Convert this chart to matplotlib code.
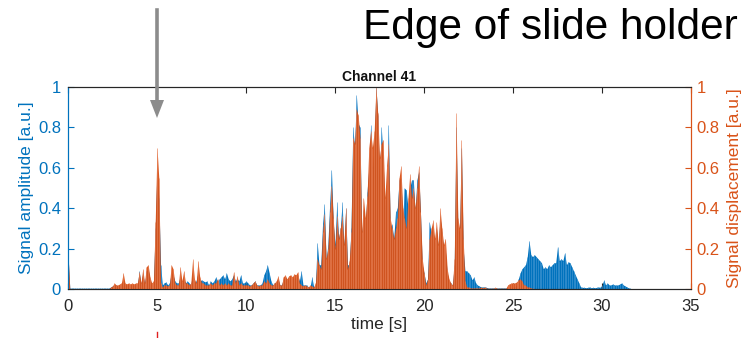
import numpy as np
import matplotlib
matplotlib.use("Agg")
import matplotlib.pyplot as plt
from matplotlib.lines import Line2D
from matplotlib.patches import FancyArrow

plt.rcParams['font.family'] = ['Liberation Sans', 'DejaVu Sans']

BLUE = '#0072BD'
ORANGE = '#D95319'
DARK = '#262626'

# sampling: 0.1 s, 0 .. 34.9 s
dt = 0.1

# signal amplitude (left axis), one row per second
amp = [
    0.17, 0.004, 0.004, 0.004, 0.004, 0.004, 0.004, 0.004, 0.004, 0.004,   # 0
    0.004, 0.004, 0.004, 0.004, 0.004, 0.004, 0.004, 0.004, 0.004, 0.004,  # 1
    0.004, 0.004, 0.004, 0.004, 0.01, 0.015, 0.02, 0.02, 0.015, 0.02,      # 2
    0.02, 0.05, 0.02, 0.02, 0.02, 0.02, 0.02, 0.02, 0.02, 0.02,            # 3
    0.09, 0.02, 0.08, 0.02, 0.09, 0.10, 0.05, 0.02, 0.03, 0.30,            # 4
    0.60, 0.45, 0.12, 0.02, 0.03, 0.035, 0.02, 0.03, 0.08, 0.07,           # 5
    0.04, 0.03, 0.03, 0.06, 0.03, 0.05, 0.03, 0.04, 0.03, 0.02,            # 6
    0.08, 0.03, 0.04, 0.08, 0.04, 0.045, 0.04, 0.035, 0.04, 0.02,          # 7
    0.04, 0.03, 0.04, 0.06, 0.04, 0.05, 0.06, 0.07, 0.05, 0.08,            # 8
    0.05, 0.04, 0.05, 0.07, 0.04, 0.05, 0.04, 0.07, 0.03, 0.03,            # 9
    0.04, 0.03, 0.02, 0.02, 0.03, 0.04, 0.02, 0.02, 0.02, 0.03,            # 10
    0.07, 0.09, 0.12, 0.08, 0.04, 0.02, 0.03, 0.03, 0.05, 0.02,            # 11
    0.02, 0.05, 0.06, 0.04, 0.05, 0.06, 0.05, 0.06, 0.05, 0.07,            # 12
    0.04, 0.09, 0.02, 0.02, 0.02, 0.01, 0.01, 0.06, 0.01, 0.02,            # 13
    0.23, 0.12, 0.12, 0.32, 0.42, 0.14, 0.22, 0.42, 0.59, 0.33,            # 14
    0.22, 0.43, 0.25, 0.30, 0.43, 0.20, 0.40, 0.12, 0.12, 0.30,            # 15
    0.80, 0.70, 0.96, 0.82, 0.80, 0.25, 0.39, 0.30, 0.48, 0.60,            # 16
    0.81, 0.60, 0.70, 1.00, 0.86, 0.55, 0.80, 0.65, 0.40, 0.50,            # 17
    0.81, 0.30, 0.32, 0.25, 0.38, 0.40, 0.54, 0.55, 0.35, 0.50,            # 18
    0.49, 0.40, 0.50, 0.54, 0.54, 0.38, 0.54, 0.58, 0.38, 0.12,            # 19
    0.08, 0.03, 0.05, 0.33, 0.28, 0.30, 0.22, 0.30, 0.20, 0.36,            # 20
    0.28, 0.20, 0.19, 0.08, 0.04, 0.03, 0.02, 0.12, 0.80, 0.31,            # 21
    0.28, 0.70, 0.20, 0.09, 0.09, 0.08, 0.07, 0.045, 0.06, 0.03,           # 22
    0.02, 0.015, 0.01, 0.01, 0.01, 0.008, 0.005, 0.005, 0.005, 0.005,      # 23
    0.005, 0.005, 0.005, 0.005, 0.005, 0.005, 0.005, 0.005, 0.005, 0.005,  # 24
    0.01, 0.01, 0.02, 0.05, 0.08, 0.10, 0.11, 0.12, 0.16, 0.24,            # 25
    0.17, 0.16, 0.17, 0.16, 0.15, 0.14, 0.13, 0.10, 0.11, 0.10,            # 26
    0.12, 0.11, 0.12, 0.13, 0.13, 0.21, 0.14, 0.15, 0.14, 0.18,            # 27
    0.12, 0.135, 0.13, 0.11, 0.09, 0.07, 0.05, 0.03, 0.01, 0.008,          # 28
    0.008, 0.006, 0.008, 0.01, 0.006, 0.008, 0.006, 0.008, 0.01, 0.008,    # 29
    0.02, 0.045, 0.02, 0.03, 0.02, 0.02, 0.025, 0.02, 0.02, 0.02,          # 30
    0.025, 0.03, 0.02, 0.015, 0.01, 0.005, 0.003, 0.0, 0.0, 0.0,           # 31
    0.0, 0.0, 0.0, 0.0, 0.0, 0.0, 0.0, 0.0, 0.0, 0.0,                      # 32
    0.0, 0.0, 0.0, 0.0, 0.0, 0.0, 0.0, 0.0, 0.0, 0.0,                      # 33
    0.0, 0.0, 0.0, 0.0, 0.0, 0.0, 0.0, 0.0, 0.0, 0.0,                      # 34
]

# signal displacement (right axis)
disp = [
    0.18, 0.0, 0.0, 0.0, 0.0, 0.0, 0.0, 0.0, 0.0, 0.0,                     # 0
    0.0, 0.0, 0.0, 0.0, 0.0, 0.0, 0.0, 0.0, 0.0, 0.0,                      # 1
    0.0, 0.0, 0.0, 0.0, 0.01, 0.015, 0.03, 0.02, 0.02, 0.025,              # 2
    0.03, 0.08, 0.03, 0.025, 0.03, 0.025, 0.03, 0.025, 0.03, 0.03,         # 3
    0.085, 0.03, 0.10, 0.03, 0.11, 0.12, 0.06, 0.03, 0.04, 0.33,           # 4
    0.70, 0.55, 0.03, 0.01, 0.02, 0.02, 0.015, 0.02, 0.12, 0.10,           # 5
    0.03, 0.02, 0.02, 0.11, 0.04, 0.09, 0.03, 0.03, 0.02, 0.03,            # 6
    0.147, 0.05, 0.03, 0.14, 0.06, 0.03, 0.03, 0.02, 0.02, 0.02,           # 7
    0.03, 0.02, 0.03, 0.03, 0.05, 0.02, 0.03, 0.02, 0.03, 0.02,            # 8
    0.03, 0.02, 0.02, 0.085, 0.03, 0.065, 0.02, 0.03, 0.02, 0.02,          # 9
    0.02, 0.02, 0.015, 0.02, 0.03, 0.04, 0.02, 0.015, 0.02, 0.02,          # 10
    0.04, 0.03, 0.05, 0.03, 0.02, 0.02, 0.03, 0.04, 0.065, 0.02,           # 11
    0.02, 0.06, 0.07, 0.05, 0.065, 0.07, 0.06, 0.075, 0.07, 0.085,         # 12
    0.03, 0.02, 0.015, 0.02, 0.015, 0.01, 0.02, 0.015, 0.01, 0.03,         # 13
    0.15, 0.12, 0.10, 0.28, 0.37, 0.15, 0.20, 0.38, 0.51, 0.35,            # 14
    0.20, 0.36, 0.25, 0.30, 0.36, 0.22, 0.40, 0.10, 0.14, 0.28,            # 15
    0.75, 0.72, 0.89, 0.86, 0.75, 0.28, 0.45, 0.35, 0.46, 0.70,            # 16
    0.78, 0.70, 0.78, 1.00, 0.87, 0.65, 0.72, 0.74, 0.45, 0.61,            # 17
    0.72, 0.35, 0.30, 0.25, 0.30, 0.35, 0.55, 0.61, 0.40, 0.35,            # 18
    0.30, 0.45, 0.57, 0.45, 0.50, 0.40, 0.50, 0.61, 0.38, 0.15,            # 19
    0.08, 0.02, 0.05, 0.25, 0.30, 0.34, 0.25, 0.33, 0.22, 0.40,            # 20
    0.30, 0.22, 0.25, 0.10, 0.05, 0.03, 0.02, 0.15, 0.87, 0.35,            # 21
    0.30, 0.74, 0.25, 0.04, 0.01, 0.01, 0.005, 0.005, 0.005, 0.005,        # 22
    0.005, 0.005, 0.01, 0.005, 0.01, 0.005, 0.003, 0.003, 0.003, 0.003,    # 23
    0.008, 0.003, 0.003, 0.003, 0.003, 0.003, 0.003, 0.02, 0.025, 0.03,    # 24
    0.03, 0.03, 0.035, 0.045, 0.05, 0.04, 0.02, 0.02, 0.01, 0.01,          # 25
    0.005, 0.003, 0.0, 0.0, 0.0, 0.0, 0.0, 0.0, 0.0, 0.0,                  # 26
] + [0.0] * 80                                                             # 27 .. 34.9

t = np.arange(len(amp)) * dt
amp = np.array(amp)
disp = np.array(disp)

xticks = [0, 5, 10, 15, 20, 25, 30, 35]
yticks = [0, 0.2, 0.4, 0.6, 0.8, 1]
yticklabels = ['0', '0.2', '0.4', '0.6', '0.8', '1']

fig = plt.figure(figsize=(7.51, 3.38), dpi=100)
ax = fig.add_axes([68 / 751, 1 - 289 / 338, 623 / 751, 202 / 338])
ax2 = ax.twinx()

# amplitude trace (left axis)
ax.fill_between(t, 0, amp, color=BLUE, lw=0)
ax.vlines(t, 0, amp, color='#4a9ad4', lw=0.7, alpha=0.6)

# displacement trace (right axis), drawn on top
ax2.fill_between(t, 0, disp, color=ORANGE, lw=0, alpha=0.96)
ax2.vlines(t, 0, disp, color='#e8825a', lw=0.7, alpha=0.6)

for a in (ax, ax2):
    a.set_xlim(0, 35)
    a.set_ylim(0, 1)
    a.set_yticks(yticks)
    a.set_yticklabels(yticklabels)

ax.set_xticks(xticks)
ax.set_xticklabels([str(v) for v in xticks])

ax.tick_params(axis='x', direction='in', length=4.5, width=0.8, color=DARK,
               labelcolor=DARK, labelsize=12, pad=7, top=True)
ax.tick_params(axis='y', direction='in', length=4.5, width=0.8, color=BLUE,
               labelcolor=BLUE, labelsize=12, pad=5)
ax2.tick_params(axis='y', direction='in', length=4.5, width=0.8, color=ORANGE,
                labelcolor=ORANGE, labelsize=12, pad=4)

for a in (ax, ax2):
    a.spines['top'].set_color(DARK)
    a.spines['bottom'].set_color(DARK)
    a.spines['left'].set_color(BLUE)
    a.spines['right'].set_color(ORANGE)
    for s in a.spines.values():
        s.set_linewidth(0.8)

ax.set_xlabel('time [s]', fontsize=12.5, color=DARK, labelpad=2)
ax.set_ylabel('Signal amplitude [a.u.]', fontsize=12.5, color=BLUE, labelpad=3)
ax2.set_ylabel('Signal displacement [a.u.]', fontsize=12.5, color=ORANGE,
               rotation=90, labelpad=5)
ax.set_title('Channel 41', fontsize=10, fontweight='bold', color='#111111', pad=4)

# annotation: arrow pointing at the holder edge
fig.text(550 / 751, 1 - 28 / 338, 'Edge of slide holder', fontsize=30.5,
         ha='center', va='center', color='black')
arrow_x = 157 / 751
fig.add_artist(Line2D([arrow_x, arrow_x], [1 - 10 / 338, 1 - 102 / 338],
                      transform=fig.transFigure, color='#8c8c8c', lw=2.6))
fig.add_artist(FancyArrow(arrow_x, 1 - 100 / 338, 0, -18 / 338,
                          width=0.0001, head_width=14 / 751, head_length=18 / 338,
                          length_includes_head=True, transform=fig.transFigure,
                          color='#8c8c8c', lw=0))
fig.add_artist(Line2D([arrow_x, arrow_x], [1 - 332 / 338, 1 - 337 / 338],
                      transform=fig.transFigure, color='#e02020', lw=1.0))

fig.savefig('out.png', dpi=100)
